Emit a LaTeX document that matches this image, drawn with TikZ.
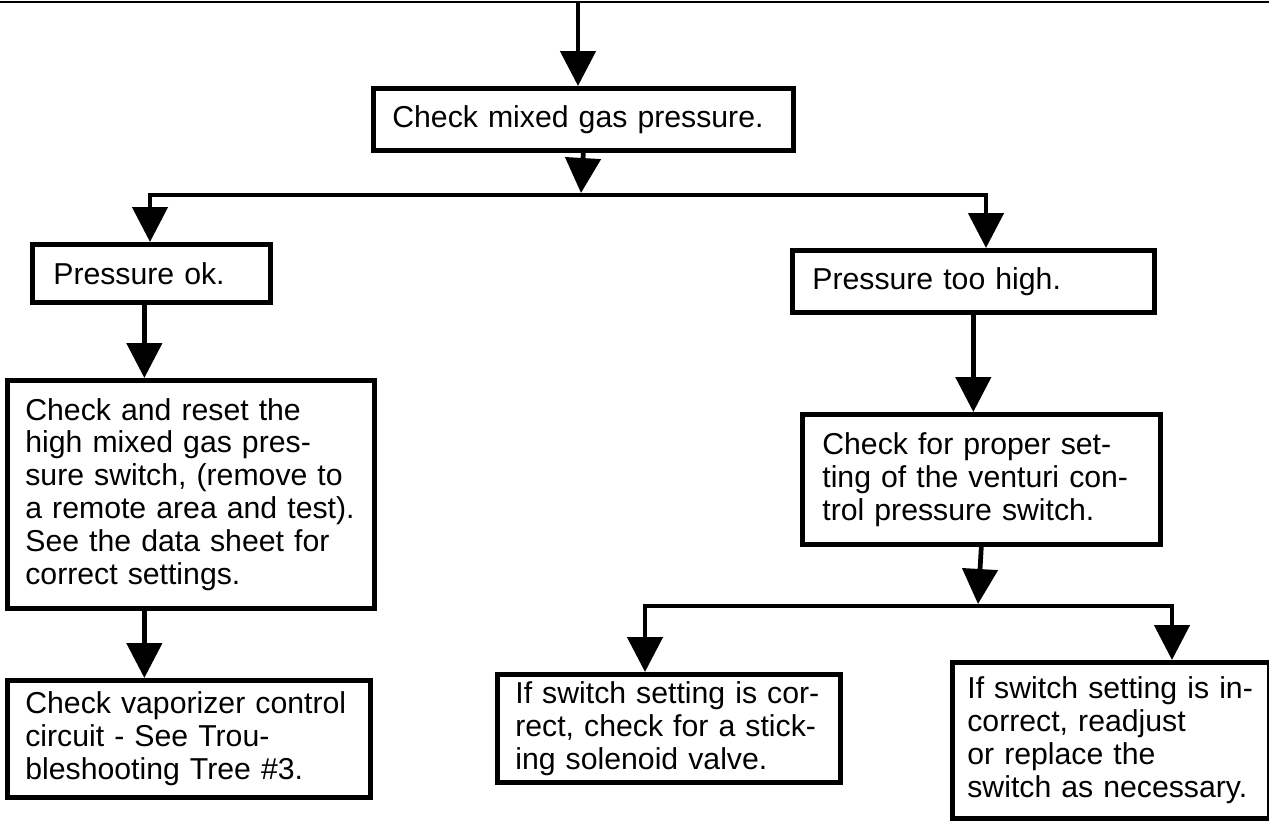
\documentclass[tikz,border=0pt]{standalone}
\usepackage{fontspec}
\setmainfont{Liberation Sans}
\usetikzlibrary{arrows.meta, positioning}

\tikzset{
    stepbox/.style={draw, line width=2.7pt, anchor=north west, align=left,
        inner xsep=0pt, inner ysep=0pt, font=\fontsize{17.2}{18.7}\selectfont},
    wire/.style={line width=2.7pt},
    flow/.style={wire, -{Triangle[length=0.7cm, width=0.7cm]}},
    fork/.style={wire, {Triangle[length=0.7cm, width=0.7cm]}-{Triangle[length=0.7cm, width=0.7cm]}},
}

\begin{document}
\begin{tikzpicture}[x=0.02cm, y=-0.02cm]
        \useasboundingbox (0,0) rectangle (1269,821);

        % Boxes
        \node[stepbox, text width=7.64cm, minimum width=8.4cm, minimum height=1.24cm] (chk) at (371,86)
            {Check mixed gas pressure.};
        \node[stepbox, text width=3.92cm, minimum width=4.76cm, minimum height=1.16cm] (ok) at (30,242)
            {Pressure ok.};
        \node[stepbox, text width=6.44cm, minimum width=7.24cm, minimum height=1.24cm] (high) at (790,248)
            {Pressure too high.};
        \node[stepbox, text width=6.62cm, minimum width=7.34cm, minimum height=4.56cm] (reset) at (5,378)
            {Check and reset the\\high mixed gas pres-\\sure switch, (remove to\\a remote area and test).\\See the data sheet for\\correct settings.};
        \node[stepbox, text width=6.36cm, minimum width=7.16cm, minimum height=2.6cm] (vent) at (800,412)
            {Check for proper set-\\ting of the venturi con-\\trol pressure switch.};
        \node[stepbox, text width=6.54cm, minimum width=7.26cm, minimum height=2.34cm] (vap) at (5,678)
            {Check vaporizer control\\circuit - See Trou-\\bleshooting Tree \#3.};
        \node[stepbox, text width=6.14cm, minimum width=6.86cm, minimum height=2.16cm] (stick) at (495,672)
            {If switch setting is cor-\\rect, check for a stick-\\ing solenoid valve.};
        \node[stepbox, text width=5.74cm, minimum width=6.34cm, minimum height=3.12cm] (adj) at (950,660)
            {If switch setting is in-\\correct, readjust\\or replace the\\switch as necessary.};

        % Top rule and entry
        \coordinate (tl) at (0,2);
        \coordinate (tr) at (1269,2);
        \coordinate (in) at (578,2);
        \draw[line width=1.7pt] (tl) -- (tr);
        \draw[flow] (in) -- (in |- chk.north);

        % First split
        \coordinate (j1) at (581,193);
        \coordinate (jl) at (150,195);
        \coordinate (jr) at (986,195);
        \draw[flow] (chk.south) -- (j1);
        \draw[fork] (jl |- ok.north) -- (jl) -- (jr) -- (jr |- high.north);

        % Left branch
        \coordinate (lx) at ([xshift=-0.14cm]ok.south);
        \draw[flow] (lx) -- (lx |- reset.north);
        \draw[flow] (lx |- reset.south) -- (lx |- vap.north);

        % Right branch
        \draw[flow] (high.south) -- (high.south |- vent.north);
        \coordinate (j2) at (978,604);
        \coordinate (jl2) at (645,606);
        \coordinate (jr2) at (1172,606);
        \draw[flow] (vent.south) -- (j2);
        \draw[fork] (jl2 |- stick.north) -- (jl2) -- (jr2) -- (jr2 |- adj.north);
    \end{tikzpicture}
\end{document}
